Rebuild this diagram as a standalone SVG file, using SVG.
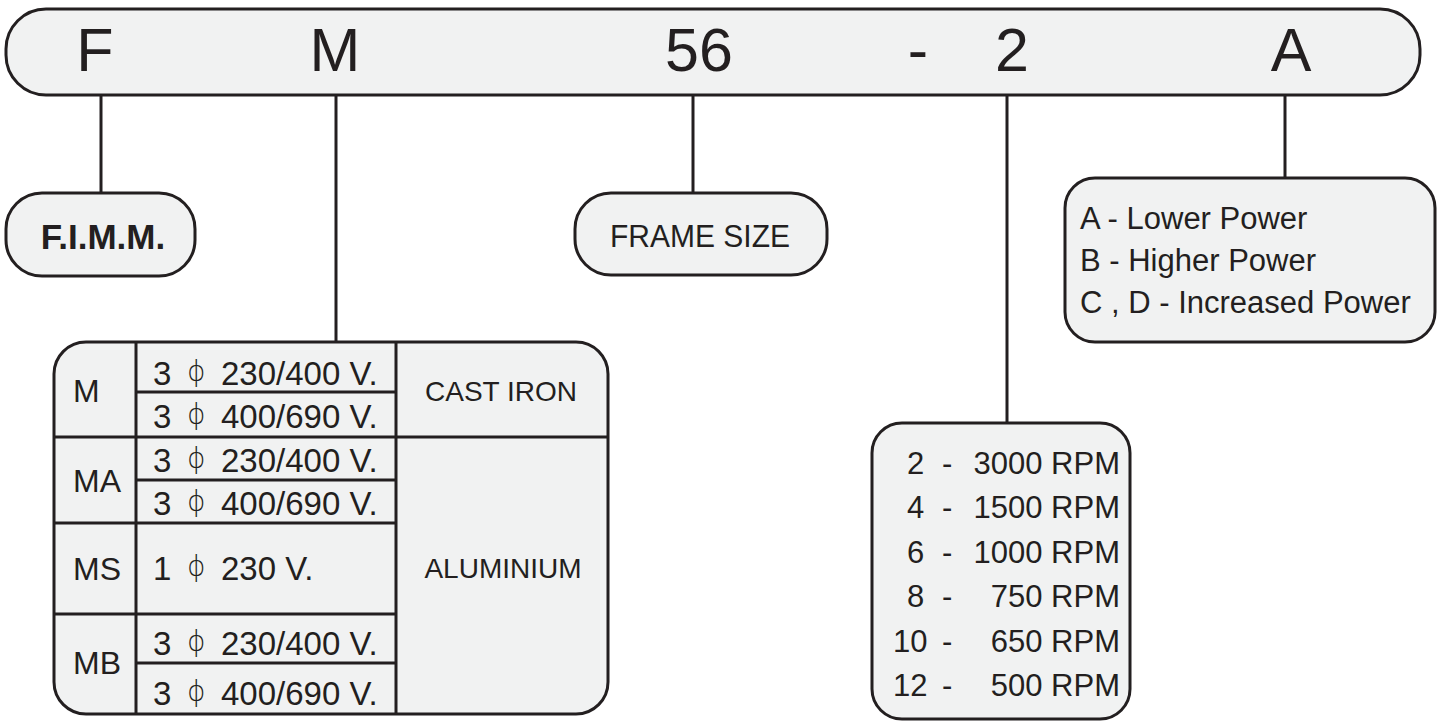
<svg xmlns="http://www.w3.org/2000/svg" width="1439" height="724" viewBox="0 0 1439 724">
<style>
.box{fill:#f1f2f2;stroke:#231f20;stroke-width:3}
.ln{stroke:#231f20;stroke-width:3;fill:none}
.t{font-family:"Liberation Sans",Arial,sans-serif;fill:#231f20}
.big{font-size:61px;text-anchor:middle}
.tb{font-size:32px}
.val{font-size:33px}
.c3{font-size:28px;text-anchor:middle}
.phi{font-family:"DejaVu Sans",sans-serif;font-size:28px;font-weight:200}
.rpm{font-size:31px}
.end{text-anchor:end}
</style>
<rect width="1439" height="724" fill="#ffffff"/>
<g id="connectors">
<line class="ln" x1="101" y1="95" x2="101" y2="194"/>
<line class="ln" x1="336" y1="95" x2="336" y2="342"/>
<line class="ln" x1="693" y1="95" x2="693" y2="193"/>
<line class="ln" x1="1007" y1="95" x2="1007" y2="423"/>
<line class="ln" x1="1285" y1="95" x2="1285" y2="178"/>
</g>
<g id="code-bar">
<rect class="box" x="6" y="9" width="1414" height="86" rx="40" ry="40"/>
<text class="t big" x="95" y="71">F</text>
<text class="t big" x="335" y="71">M</text>
<text class="t big" x="699" y="71">56</text>
<text class="t big" x="918" y="71">-</text>
<text class="t big" x="1012" y="71">2</text>
<text class="t big" x="1291" y="71">A</text>
</g>
<g id="fimm">
<rect class="box" x="6" y="193" width="189" height="83" rx="36" ry="36"/>
<text class="t" x="103" y="249" font-size="35" font-weight="bold" text-anchor="middle">F.I.M.M.</text>
</g>
<g id="frame-size">
<rect class="box" x="575" y="193" width="252" height="82" rx="36" ry="36"/>
<text class="t" x="610" y="247" font-size="32" textLength="180" lengthAdjust="spacingAndGlyphs">FRAME SIZE</text>
</g>
<g id="series-table">
<rect class="box" x="54" y="342" width="554" height="372" rx="32" ry="32"/>
<line class="ln" x1="136" y1="342" x2="136" y2="714"/>
<line class="ln" x1="396" y1="342" x2="396" y2="714"/>
<line class="ln" x1="136" y1="392" x2="396" y2="392"/>
<line class="ln" x1="54" y1="437" x2="608" y2="437"/>
<line class="ln" x1="136" y1="480" x2="396" y2="480"/>
<line class="ln" x1="54" y1="523" x2="396" y2="523"/>
<line class="ln" x1="54" y1="614" x2="396" y2="614"/>
<line class="ln" x1="136" y1="663" x2="396" y2="663"/>
<text class="t tb" x="73" y="402">M</text>
<text class="t tb" x="73" y="492">MA</text>
<text class="t tb" x="73" y="580">MS</text>
<text class="t tb" x="73" y="674">MB</text>
<text class="t val" y="385"><tspan x="153">3 </tspan><tspan class="phi" x="187" dy="-4">ϕ </tspan><tspan x="221" dy="4">230/400 V.</tspan></text>
<text class="t val" y="428"><tspan x="153">3 </tspan><tspan class="phi" x="187" dy="-4">ϕ </tspan><tspan x="221" dy="4">400/690 V.</tspan></text>
<text class="t val" y="472"><tspan x="153">3 </tspan><tspan class="phi" x="187" dy="-4">ϕ </tspan><tspan x="221" dy="4">230/400 V.</tspan></text>
<text class="t val" y="515"><tspan x="153">3 </tspan><tspan class="phi" x="187" dy="-4">ϕ </tspan><tspan x="221" dy="4">400/690 V.</tspan></text>
<text class="t val" y="580"><tspan x="153">1 </tspan><tspan class="phi" x="187" dy="-4">ϕ </tspan><tspan x="221" dy="4">230 V.</tspan></text>
<text class="t val" y="655"><tspan x="153">3 </tspan><tspan class="phi" x="187" dy="-4">ϕ </tspan><tspan x="221" dy="4">230/400 V.</tspan></text>
<text class="t val" y="705"><tspan x="153">3 </tspan><tspan class="phi" x="187" dy="-4">ϕ </tspan><tspan x="221" dy="4">400/690 V.</tspan></text>
<text class="t c3" x="501" y="401">CAST IRON</text>
<text class="t c3" x="503" y="578">ALUMINIUM</text>
</g>
<g id="speed">
<rect class="box" x="872" y="423" width="258" height="296" rx="30" ry="30"/>
<text class="t rpm" y="474"><tspan x="907">2</tspan><tspan x="942">-</tspan><tspan class="end" x="1120">3000 RPM</tspan></text>
<text class="t rpm" y="518"><tspan x="907">4</tspan><tspan x="942">-</tspan><tspan class="end" x="1120">1500 RPM</tspan></text>
<text class="t rpm" y="563"><tspan x="907">6</tspan><tspan x="942">-</tspan><tspan class="end" x="1120">1000 RPM</tspan></text>
<text class="t rpm" y="607"><tspan x="907">8</tspan><tspan x="942">-</tspan><tspan class="end" x="1120">750 RPM</tspan></text>
<text class="t rpm" y="652"><tspan x="893">10</tspan><tspan x="942">-</tspan><tspan class="end" x="1120">650 RPM</tspan></text>
<text class="t rpm" y="696"><tspan x="893">12</tspan><tspan x="942">-</tspan><tspan class="end" x="1120">500 RPM</tspan></text>
</g>
<g id="power">
<rect class="box" x="1065" y="178" width="370" height="164" rx="30" ry="30"/>
<text class="t rpm" x="1080" y="229">A - Lower Power</text>
<text class="t rpm" x="1080" y="271">B - Higher Power</text>
<text class="t rpm" x="1080" y="313">C , D - Increased Power</text>
</g>
</svg>
